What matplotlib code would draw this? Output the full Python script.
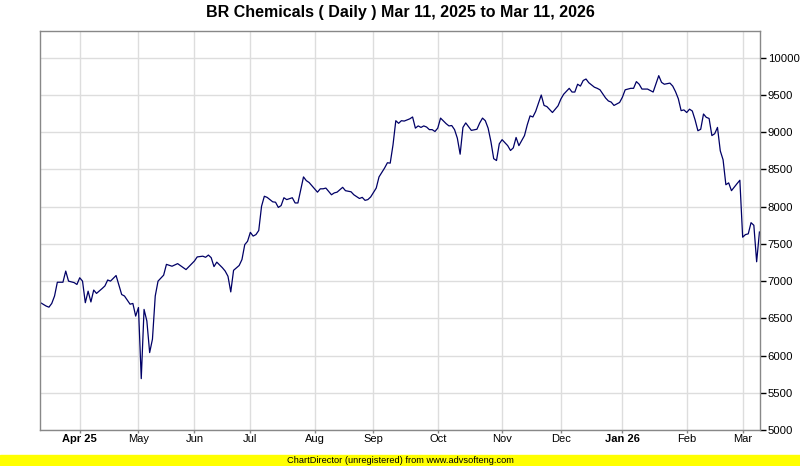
import matplotlib
matplotlib.use('Agg')
import matplotlib.pyplot as plt

# trading-day number (0 = Mar 11, 2025) and closing price
day = [0, 2, 3, 4, 5, 6, 8, 9, 10, 12, 13, 14, 15, 16, 17, 18, 19, 20, 22, 23,
       24, 25, 27, 29, 30, 32, 33, 34, 35, 36, 37, 38, 39, 40, 41, 42, 44, 45, 47, 49,
       52, 55, 56, 58, 59, 60, 61, 62, 63, 65, 66, 67, 68, 69, 71, 72, 73, 74, 75, 76,
       77, 78, 79, 80, 81, 83, 84, 85, 86, 87, 88, 90, 91, 92, 94, 95, 96, 99, 100, 101,
       102, 104, 105, 106, 108, 109, 111, 112, 114, 115, 116, 117, 118, 120, 121, 123, 124, 125, 126, 127,
       128, 129, 130, 132, 133, 134, 135, 136, 137, 138, 139, 140, 141, 142, 143, 145, 146, 147, 148, 149,
       150, 151, 152, 153, 154, 156, 157, 158, 159, 160, 161, 162, 163, 164, 165, 167, 168, 169, 170, 171,
       173, 174, 175, 176, 177, 179, 180, 181, 183, 185, 186, 187, 189, 190, 191, 192, 193, 194, 195, 196,
       198, 199, 200, 202, 203, 204, 205, 207, 208, 209, 211, 212, 213, 214, 215, 217, 219, 221, 222, 223,
       225, 226, 227, 228, 229, 230, 231, 232, 233, 234, 235, 236, 237, 238, 239, 240, 241, 242, 243, 244,
       245, 246, 247, 249, 250, 251, 252, 253, 254, 255, 256, 257]
close = [6710, 6665, 6650, 6700, 6800, 6985, 6985, 7135, 7000, 6980, 6955, 7045, 7000, 6710, 6865, 6720, 6880, 6835, 6900, 6935,
         7015, 7000, 7075, 6820, 6800, 6690, 6700, 6530, 6645, 5690, 6620, 6465, 6040, 6220, 6800, 7000, 7080, 7225, 7200, 7235,
         7155, 7270, 7325, 7335, 7320, 7350, 7315, 7195, 7255, 7180, 7135, 7065, 6855, 7145, 7210, 7290, 7490, 7535, 7655, 7605,
         7625, 7680, 8005, 8140, 8125, 8065, 8060, 7990, 8015, 8120, 8095, 8120, 8050, 8050, 8400, 8350, 8325, 8195, 8240, 8240,
         8250, 8160, 8185, 8195, 8260, 8215, 8200, 8160, 8110, 8125, 8085, 8095, 8130, 8250, 8400, 8520, 8590, 8585, 8830, 9155,
         9120, 9155, 9150, 9180, 9205, 9055, 9085, 9065, 9085, 9070, 9035, 9035, 9010, 9055, 9190, 9115, 9085, 9090, 9035, 8920,
         8705, 9065, 9125, 9075, 9025, 9040, 9125, 9190, 9155, 9055, 8875, 8645, 8620, 8845, 8900, 8820, 8755, 8790, 8930, 8820,
         8955, 9100, 9220, 9205, 9280, 9500, 9360, 9345, 9265, 9355, 9445, 9510, 9590, 9540, 9540, 9645, 9620, 9695, 9715, 9665,
         9605, 9590, 9570, 9460, 9420, 9405, 9360, 9400, 9470, 9570, 9590, 9590, 9680, 9645, 9580, 9580, 9540, 9760, 9670, 9645,
         9660, 9620, 9545, 9450, 9290, 9300, 9265, 9310, 9285, 9165, 9020, 9040, 9245, 9200, 9185, 8955, 8980, 9065, 8750, 8630,
         8295, 8320, 8215, 8310, 8355, 7590, 7625, 7635, 7785, 7750, 7260, 7660]

# first trading day of each month
month_day = [14, 35, 55, 75, 98, 119, 142, 165, 186, 208, 231, 251]
month_lbl = ['Apr 25', 'May', 'Jun', 'Jul', 'Aug', 'Sep', 'Oct', 'Nov', 'Dec', 'Jan 26', 'Feb', 'Mar']
y_ticks = [5000, 5500, 6000, 6500, 7000, 7500, 8000, 8500, 9000, 9500, 10000]

plt.rcParams['font.family'] = ['Liberation Sans', 'DejaVu Sans']

fig = plt.figure(figsize=(8, 4.66), dpi=100)
ax = fig.add_axes([40 / 800, 36 / 466, 720 / 800, 399 / 466])

ax.plot(day, close, color='#000066', lw=0.9)

ax.set_xlim(-0.2, 257.2)
ax.set_ylim(5000, 10360)

ax.set_xticks(month_day)
ax.set_xticklabels(month_lbl, fontsize=8)
for lbl in ax.get_xticklabels():
    if lbl.get_text() in ('Apr 25', 'Jan 26'):
        lbl.set_fontweight('bold')

ax.yaxis.tick_right()
ax.set_yticks(y_ticks)
ax.set_yticklabels([str(v) for v in y_ticks], fontsize=8.2)
ax.tick_params(axis='y', length=4, width=1, color='black', pad=1.5)
ax.tick_params(axis='x', length=2, width=1, color='#888888', pad=1)

ax.grid(True, color='#dddddd', lw=1)
ax.set_axisbelow(True)
for s in ax.spines.values():
    s.set_color('#888888')
    s.set_linewidth(1)

fig.text(0.5, 1 - 13 / 466, 'BR Chemicals ( Daily ) Mar 11, 2025 to Mar 11, 2026',
         ha='center', va='center', fontsize=11.5, fontweight='bold')

# yellow banner at the bottom
fig.patches.append(plt.Rectangle((0, 0), 1, 11 / 466, transform=fig.transFigure,
                                 color='#ffff00', zorder=0))
fig.text(0.5, 5.5 / 466, 'ChartDirector (unregistered) from www.advsofteng.com',
         ha='center', va='center', fontsize=6.7)

fig.savefig('out.png', dpi=100)
